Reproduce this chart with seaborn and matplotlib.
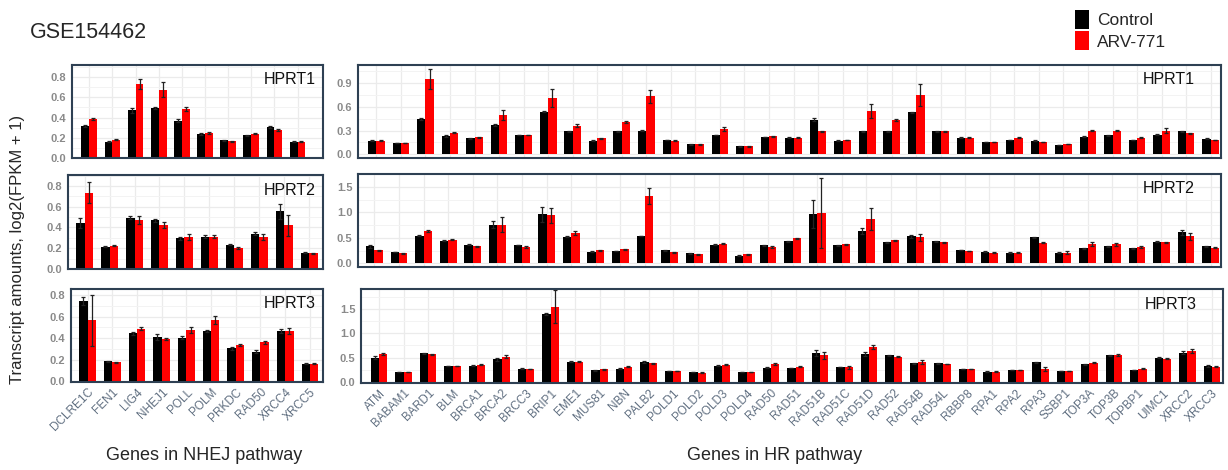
import matplotlib
matplotlib.use("Agg")
import matplotlib.pyplot as plt
import numpy as np
import pandas as pd
import seaborn as sns
from matplotlib.patches import Patch
from matplotlib.ticker import MultipleLocator

OUTPUT_PATH = "out.png"

GROUPS = ["Control", "ARV-771"]
PALETTE = {"Control": "#000000", "ARV-771": "#ff0000"}

NHEJ_GENES = ["DCLRE1C", "FEN1", "LIG4", "NHEJ1", "POLL", "POLM", "PRKDC", "RAD50", "XRCC4", "XRCC5"]
HR_GENES = ["ATM", "BABAM1", "BARD1", "BLM", "BRCA1", "BRCA2", "BRCC3", "BRIP1", "EME1", "MUS81",
            "NBN", "PALB2", "POLD1", "POLD2", "POLD3", "POLD4", "RAD50", "RAD51", "RAD51B", "RAD51C",
            "RAD51D", "RAD52", "RAD54B", "RAD54L", "RBBP8", "RPA1", "RPA2", "RPA3", "SSBP1", "TOP3A",
            "TOP3B", "TOPBP1", "UIMC1", "XRCC2", "XRCC3"]
REFERENCE_GENES = ["HPRT1", "HPRT2", "HPRT3"]

# NHEJ pathway, mean and error per reference gene
nhej_ctrl = {
    "HPRT1": [0.32, 0.16, 0.47, 0.495, 0.37, 0.236, 0.174, 0.226, 0.305, 0.16],
    "HPRT2": [0.44, 0.213, 0.494, 0.468, 0.294, 0.31, 0.232, 0.34, 0.555, 0.155],
    "HPRT3": [0.747, 0.184, 0.444, 0.41, 0.406, 0.47, 0.306, 0.275, 0.466, 0.163],
}
nhej_arv = {
    "HPRT1": [0.385, 0.18, 0.735, 0.675, 0.48, 0.25, 0.167, 0.24, 0.28, 0.16],
    "HPRT2": [0.735, 0.223, 0.47, 0.42, 0.31, 0.31, 0.203, 0.31, 0.42, 0.152],
    "HPRT3": [0.566, 0.175, 0.49, 0.39, 0.475, 0.57, 0.335, 0.36, 0.466, 0.163],
}
nhej_ctrl_err = {
    "HPRT1": [0.01, 0.005, 0.02, 0.01, 0.015, 0.008, 0.005, 0.005, 0.01, 0.005],
    "HPRT2": [0.05, 0.005, 0.015, 0.015, 0.015, 0.015, 0.005, 0.015, 0.075, 0.005],
    "HPRT3": [0.04, 0.005, 0.015, 0.03, 0.015, 0.01, 0.015, 0.01, 0.02, 0.005],
}
nhej_arv_err = {
    "HPRT1": [0.01, 0.005, 0.05, 0.075, 0.02, 0.01, 0.005, 0.005, 0.01, 0.005],
    "HPRT2": [0.1, 0.005, 0.04, 0.03, 0.03, 0.015, 0.01, 0.03, 0.1, 0.005],
    "HPRT3": [0.24, 0.005, 0.015, 0.01, 0.03, 0.04, 0.01, 0.01, 0.03, 0.005],
}

# HR pathway
hr_ctrl = {
    "HPRT1": [0.17, 0.144, 0.45, 0.23, 0.2, 0.37, 0.245, 0.54, 0.29, 0.17,
              0.29, 0.30, 0.18, 0.127, 0.245, 0.1, 0.22, 0.21, 0.435, 0.17,
              0.29, 0.29, 0.53, 0.29, 0.21, 0.156, 0.18, 0.17, 0.118, 0.224,
              0.24, 0.18, 0.25, 0.29, 0.195],
    "HPRT2": [0.335, 0.22, 0.54, 0.44, 0.36, 0.755, 0.355, 0.96, 0.52, 0.23,
              0.24, 0.54, 0.26, 0.195, 0.36, 0.15, 0.355, 0.43, 0.97, 0.35,
              0.63, 0.41, 0.53, 0.43, 0.265, 0.23, 0.21, 0.51, 0.21, 0.3,
              0.33, 0.3, 0.42, 0.61, 0.335],
    "HPRT3": [0.5, 0.2, 0.59, 0.33, 0.33, 0.46, 0.27, 1.41, 0.41, 0.24,
              0.27, 0.41, 0.22, 0.2, 0.33, 0.2, 0.29, 0.28, 0.59, 0.3,
              0.57, 0.55, 0.38, 0.38, 0.26, 0.21, 0.24, 0.4, 0.22, 0.36,
              0.55, 0.24, 0.5, 0.6, 0.32],
}
hr_arv = {
    "HPRT1": [0.17, 0.144, 0.955, 0.275, 0.215, 0.5, 0.245, 0.71, 0.36, 0.2,
              0.405, 0.735, 0.17, 0.127, 0.32, 0.1, 0.23, 0.21, 0.29, 0.18,
              0.55, 0.435, 0.745, 0.29, 0.21, 0.156, 0.21, 0.156, 0.13, 0.30,
              0.30, 0.21, 0.30, 0.265, 0.18],
    "HPRT2": [0.26, 0.195, 0.64, 0.465, 0.335, 0.76, 0.32, 0.94, 0.6, 0.26,
              0.28, 1.32, 0.22, 0.175, 0.38, 0.175, 0.32, 0.49, 0.99, 0.37,
              0.865, 0.45, 0.51, 0.41, 0.245, 0.21, 0.21, 0.40, 0.21, 0.37,
              0.37, 0.32, 0.41, 0.53, 0.31],
    "HPRT3": [0.58, 0.2, 0.57, 0.33, 0.35, 0.52, 0.26, 1.55, 0.41, 0.255,
              0.31, 0.38, 0.225, 0.19, 0.35, 0.2, 0.36, 0.31, 0.55, 0.3,
              0.72, 0.52, 0.40, 0.37, 0.26, 0.21, 0.24, 0.27, 0.22, 0.39,
              0.55, 0.27, 0.48, 0.63, 0.31],
}
hr_ctrl_err = {
    "HPRT1": [0.005, 0.005, 0.01, 0.008, 0.005, 0.01, 0.005, 0.01, 0.005, 0.005,
              0.005, 0.005, 0.005, 0.005, 0.005, 0.005, 0.005, 0.005, 0.02, 0.005,
              0.005, 0.005, 0.01, 0.005, 0.005, 0.005, 0.005, 0.005, 0.005, 0.005,
              0.005, 0.005, 0.005, 0.01, 0.005],
    "HPRT2": [0.03, 0.005, 0.01, 0.01, 0.01, 0.065, 0.005, 0.15, 0.01, 0.005,
              0.005, 0.005, 0.01, 0.005, 0.01, 0.005, 0.01, 0.01, 0.28, 0.01,
              0.06, 0.01, 0.03, 0.01, 0.005, 0.005, 0.005, 0.005, 0.005, 0.01,
              0.01, 0.01, 0.01, 0.05, 0.01],
    "HPRT3": [0.03, 0.005, 0.01, 0.005, 0.01, 0.03, 0.005, 0.02, 0.01, 0.01,
              0.005, 0.02, 0.005, 0.005, 0.01, 0.005, 0.01, 0.005, 0.06, 0.005,
              0.04, 0.01, 0.01, 0.005, 0.005, 0.005, 0.005, 0.01, 0.005, 0.01,
              0.01, 0.005, 0.01, 0.03, 0.02],
}
hr_arv_err = {
    "HPRT1": [0.005, 0.005, 0.13, 0.01, 0.005, 0.06, 0.005, 0.11, 0.02, 0.005,
              0.015, 0.08, 0.005, 0.005, 0.03, 0.005, 0.005, 0.005, 0.01, 0.005,
              0.09, 0.015, 0.14, 0.005, 0.005, 0.005, 0.005, 0.005, 0.005, 0.01,
              0.005, 0.005, 0.03, 0.005, 0.005],
    "HPRT2": [0.01, 0.005, 0.02, 0.01, 0.01, 0.14, 0.01, 0.15, 0.04, 0.01,
              0.01, 0.16, 0.01, 0.005, 0.01, 0.005, 0.01, 0.01, 0.68, 0.01,
              0.22, 0.01, 0.07, 0.01, 0.005, 0.005, 0.005, 0.01, 0.03, 0.04,
              0.03, 0.01, 0.01, 0.07, 0.01],
    "HPRT3": [0.02, 0.005, 0.01, 0.005, 0.01, 0.03, 0.005, 0.34, 0.01, 0.005,
              0.01, 0.01, 0.005, 0.005, 0.01, 0.005, 0.02, 0.01, 0.07, 0.03,
              0.04, 0.01, 0.04, 0.005, 0.005, 0.005, 0.005, 0.04, 0.005, 0.01,
              0.02, 0.01, 0.01, 0.04, 0.01],
}

# axes boxes in pixels (left, top, right, bottom) and data limits
FIG_W, FIG_H = 1228, 470
NHEJ_BOXES = [(72, 65, 323, 158), (68, 175, 323, 269), (71, 289, 323, 382)]
HR_BOXES = [(358, 65, 1221, 158), (358, 174, 1221, 267), (361, 289, 1223, 383)]
NHEJ_XLIM = [(-0.75, 10.1), (-0.67, 9.56), (-0.67, 9.53)]
HR_XLIM = [(-0.75, 34.42), (-0.67, 34.42), (-0.74, 34.45)]
NHEJ_YLIM = [(0, 0.92), (0, 0.905), (-0.01, 0.86)]
HR_YLIM = [(-0.047, 1.13), (-0.072, 1.75), (-0.027, 1.92)]
HR_YSTEP = [0.3, 0.5, 0.5]

TICK_COLOR = "#8a8a8a"
XLABEL_COLOR = "#5f6e80"
BORDER_COLOR = "#2e4053"


def make_axes(fig, box):
    left, top, right, bottom = box
    return fig.add_axes([left / FIG_W, 1 - bottom / FIG_H, (right - left) / FIG_W, (bottom - top) / FIG_H])


def build_frame(genes, ctrl, arv, ctrl_err, arv_err):
    return pd.DataFrame({
        "gene": genes * 2,
        "group": ["Control"] * len(genes) + ["ARV-771"] * len(genes),
        "value": list(ctrl) + list(arv),
        "err": list(ctrl_err) + list(arv_err),
    })


def draw_panel(ax, df, genes, label, xlim, ylim, ystep, show_xticks):
    sns.barplot(data=df, x="gene", y="value", hue="group", order=genes, hue_order=GROUPS,
                palette=PALETTE, width=0.68, errorbar=None, legend=False, saturation=1,
                linewidth=0, ax=ax)
    for container, group in zip(ax.containers, GROUPS):
        errs = df.loc[df["group"] == group, "err"].to_numpy()
        for patch, err in zip(container.patches, errs):
            ax.errorbar(patch.get_x() + patch.get_width() / 2, patch.get_height(), yerr=err,
                        fmt="none", ecolor="#222222", elinewidth=0.9, capsize=1.6, capthick=0.9)

    ax.set_xlim(*xlim)
    ax.set_ylim(*ylim)
    ax.yaxis.set_major_locator(MultipleLocator(ystep))
    ax.yaxis.set_minor_locator(MultipleLocator(ystep / 2))
    ax.set_yticks([t for t in ax.get_yticks() if 0 <= t <= ylim[1]])
    ax.yaxis.set_major_formatter(matplotlib.ticker.FormatStrFormatter("%.1f"))
    ax.grid(which="major", color="#ebebeb", linewidth=0.9)
    ax.grid(which="minor", axis="y", color="#f3f3f3", linewidth=0.7)
    ax.set_axisbelow(True)
    ax.tick_params(axis="y", which="major", labelsize=8, labelcolor=TICK_COLOR, length=2,
                   color=TICK_COLOR, pad=2)
    ax.tick_params(axis="y", which="minor", length=0)
    ax.tick_params(axis="x", length=0)
    for t in ax.get_yticklabels():
        t.set_fontweight("bold")
    if show_xticks:
        ax.set_xticks(range(len(genes)))
        ax.set_xticklabels(genes, rotation=45, ha="right", rotation_mode="anchor",
                           fontsize=8.5, color=XLABEL_COLOR)
        ax.tick_params(axis="x", pad=3)
    else:
        ax.set_xticklabels([])
    ax.set_xlabel("")
    ax.set_ylabel("")
    for spine in ax.spines.values():
        spine.set_color(BORDER_COLOR)
        spine.set_linewidth(1.5)
    ax.text(0.97, 0.84, label, transform=ax.transAxes, ha="right", va="center", fontsize=11.5,
            color="#111111")


def main():
    sns.set_theme(style="white")
    plt.rcParams["font.family"] = ["Liberation Sans", "DejaVu Sans"]

    fig = plt.figure(figsize=(FIG_W / 100, FIG_H / 100), dpi=100)

    for i, ref in enumerate(REFERENCE_GENES):
        df = build_frame(NHEJ_GENES, nhej_ctrl[ref], nhej_arv[ref], nhej_ctrl_err[ref], nhej_arv_err[ref])
        ax = make_axes(fig, NHEJ_BOXES[i])
        draw_panel(ax, df, NHEJ_GENES, ref, NHEJ_XLIM[i], NHEJ_YLIM[i], 0.2, i == 2)

        df = build_frame(HR_GENES, hr_ctrl[ref], hr_arv[ref], hr_ctrl_err[ref], hr_arv_err[ref])
        ax = make_axes(fig, HR_BOXES[i])
        draw_panel(ax, df, HR_GENES, ref, HR_XLIM[i], HR_YLIM[i], HR_YSTEP[i], i == 2)

    fig.text(30 / FIG_W, 1 - 33 / FIG_H, "GSE154462", fontsize=15.5, ha="left", va="center")
    fig.text(18 / FIG_W, 1 - 249 / FIG_H, "Transcript amounts, log2(FPKM + 1)", fontsize=12,
             rotation=90, ha="center", va="center")
    fig.text(204 / FIG_W, 1 - 455 / FIG_H, "Genes in NHEJ pathway", fontsize=13, ha="center", va="center")
    fig.text(775 / FIG_W, 1 - 455 / FIG_H, "Genes in HR pathway", fontsize=13, ha="center", va="center")

    handles = [Patch(facecolor=PALETTE[g], edgecolor="none", label=g) for g in GROUPS]
    fig.legend(handles=handles, loc="upper left", bbox_to_anchor=(1068 / FIG_W, 1 - 3 / FIG_H),
               frameon=False, fontsize=12.5, handlelength=0.8, handleheight=1.3, handletextpad=0.45,
               labelspacing=0.15, borderaxespad=0)

    fig.savefig(OUTPUT_PATH, dpi=100)
    plt.close(fig)


if __name__ == "__main__":
    main()
